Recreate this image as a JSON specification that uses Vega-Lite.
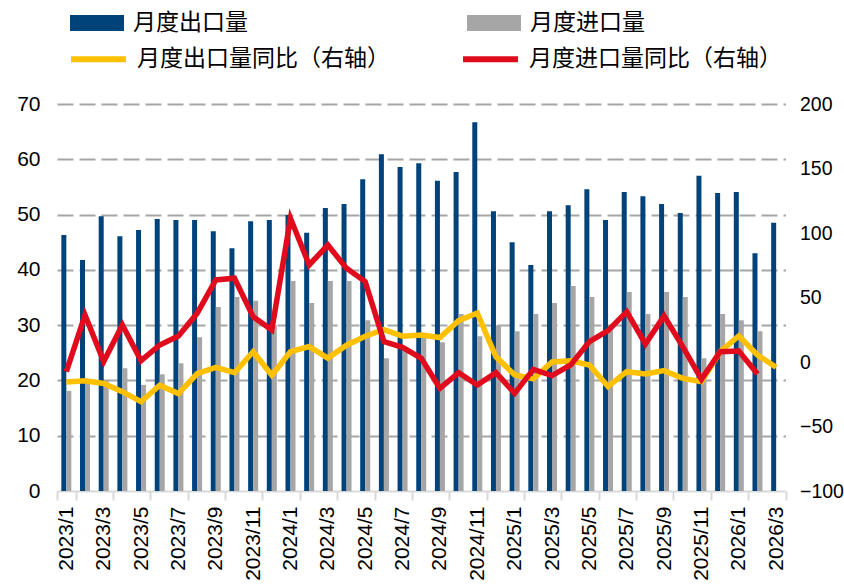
{
  "$schema": "https://vega.github.io/schema/vega-lite/v6.json",
  "width": 728.5,
  "height": 387,
  "autosize": {"type": "none"},
  "padding": {"left": 57, "top": 104, "right": 58.5, "bottom": 97},
  "background": "white",
  "config": {"view": {"stroke": null}, "font": "Liberation Sans"},
  "data": {
    "values": [
      {"month": "2023/1", "exp": 46.3, "imp": 18.1, "expYoY": -15.5, "impYoY": -7.5},
      {"month": "2023/2", "exp": 41.8, "imp": 20.0, "expYoY": -14.5, "impYoY": 36.4},
      {"month": "2023/3", "exp": 49.7, "imp": 20.0, "expYoY": -16.6, "impYoY": 0.3},
      {"month": "2023/4", "exp": 46.1, "imp": 22.2, "expYoY": -23.0, "impYoY": 28.7},
      {"month": "2023/5", "exp": 47.2, "imp": 19.2, "expYoY": -30.8, "impYoY": 1.0},
      {"month": "2023/6", "exp": 49.2, "imp": 21.1, "expYoY": -18.0, "impYoY": 13.2},
      {"month": "2023/7", "exp": 49.0, "imp": 23.1, "expYoY": -24.5, "impYoY": 20.2},
      {"month": "2023/8", "exp": 49.0, "imp": 27.8, "expYoY": -9.0, "impYoY": 37.7},
      {"month": "2023/9", "exp": 47.0, "imp": 33.3, "expYoY": -4.1, "impYoY": 63.6},
      {"month": "2023/10", "exp": 43.9, "imp": 35.1, "expYoY": -8.3, "impYoY": 64.9},
      {"month": "2023/11", "exp": 48.8, "imp": 34.4, "expYoY": 8.0, "impYoY": 35.1},
      {"month": "2023/12", "exp": 49.0, "imp": 30.0, "expYoY": -10.3, "impYoY": 24.8},
      {"month": "2024/1", "exp": 49.9, "imp": 38.0, "expYoY": 8.0, "impYoY": 111.4},
      {"month": "2024/2", "exp": 46.7, "imp": 34.0, "expYoY": 12.0, "impYoY": 75.2},
      {"month": "2024/3", "exp": 51.2, "imp": 38.0, "expYoY": 3.0, "impYoY": 90.7},
      {"month": "2024/4", "exp": 51.9, "imp": 38.0, "expYoY": 13.0, "impYoY": 72.6},
      {"month": "2024/5", "exp": 56.4, "imp": 30.9, "expYoY": 20.0, "impYoY": 62.3},
      {"month": "2024/6", "exp": 60.9, "imp": 24.0, "expYoY": 25.0, "impYoY": 15.8},
      {"month": "2024/7", "exp": 58.6, "imp": 26.0, "expYoY": 20.0, "impYoY": 11.4},
      {"month": "2024/8", "exp": 59.3, "imp": 27.8, "expYoY": 21.0, "impYoY": 2.8},
      {"month": "2024/9", "exp": 56.1, "imp": 26.9, "expYoY": 19.0, "impYoY": -20.4},
      {"month": "2024/10", "exp": 57.7, "imp": 32.0, "expYoY": 32.0, "impYoY": -8.3},
      {"month": "2024/11", "exp": 66.7, "imp": 28.0, "expYoY": 38.0, "impYoY": -17.8},
      {"month": "2024/12", "exp": 50.6, "imp": 30.0, "expYoY": 4.0, "impYoY": -8.3},
      {"month": "2025/1", "exp": 45.0, "imp": 28.9, "expYoY": -10.0, "impYoY": -24.3},
      {"month": "2025/2", "exp": 40.9, "imp": 32.0, "expYoY": -13.0, "impYoY": -5.7},
      {"month": "2025/3", "exp": 50.6, "imp": 34.0, "expYoY": 0.0, "impYoY": -10.5},
      {"month": "2025/4", "exp": 51.7, "imp": 37.1, "expYoY": 1.0, "impYoY": -2.3},
      {"month": "2025/5", "exp": 54.6, "imp": 35.1, "expYoY": -2.3, "impYoY": 15.8},
      {"month": "2025/6", "exp": 49.0, "imp": 30.0, "expYoY": -19.0, "impYoY": 24.3},
      {"month": "2025/7", "exp": 54.1, "imp": 36.0, "expYoY": -7.5, "impYoY": 39.0},
      {"month": "2025/8", "exp": 53.3, "imp": 32.0, "expYoY": -9.3, "impYoY": 14.0},
      {"month": "2025/9", "exp": 51.9, "imp": 36.0, "expYoY": -6.7, "impYoY": 35.7},
      {"month": "2025/10", "exp": 50.3, "imp": 35.1, "expYoY": -12.7, "impYoY": 11.9},
      {"month": "2025/11", "exp": 57.0, "imp": 24.0, "expYoY": -15.3, "impYoY": -13.4},
      {"month": "2025/12", "exp": 53.9, "imp": 32.0, "expYoY": 8.0, "impYoY": 8.0},
      {"month": "2026/1", "exp": 54.1, "imp": 30.9, "expYoY": 20.2, "impYoY": 8.5},
      {"month": "2026/2", "exp": 43.0, "imp": 28.9, "expYoY": 5.4, "impYoY": -9.3},
      {"month": "2026/3", "exp": 48.5, "imp": null, "expYoY": -4.1, "impYoY": null}
    ]
  },
  "layer": [
    {
      "transform": [{"fold": ["exp", "imp"], "as": ["series", "value"]}],
      "mark": {"type": "bar"},
      "encoding": {
        "x": {
          "field": "month",
          "type": "nominal",
          "sort": null,
          "scale": {"paddingInner": 0, "paddingOuter": 0},
          "axis": {
            "title": null,
            "values": ["2023/1", "2023/3", "2023/5", "2023/7", "2023/9", "2023/11", "2024/1", "2024/3", "2024/5", "2024/7", "2024/9", "2024/11", "2025/1", "2025/3", "2025/5", "2025/7", "2025/9", "2025/11", "2026/1", "2026/3"],
            "tickBand": "extent",
            "labelAngle": -90,
            "labelAlign": "right",
            "labelBaseline": "middle",
            "labelFont": "Liberation Sans",
            "labelFontSize": 21,
            "labelColor": "#000000",
            "labelPadding": 6,
            "domainColor": "#d9d9d9",
            "domainWidth": 2,
            "tickColor": "#d9d9d9",
            "tickWidth": 2,
            "tickSize": 9,
            "grid": false
          }
        },
        "xOffset": {
          "field": "series",
          "type": "nominal",
          "scale": {"domain": ["exp", "imp"], "paddingInner": 0, "paddingOuter": 0.868}
        },
        "y": {
          "field": "value",
          "type": "quantitative",
          "scale": {"domain": [0, 70], "nice": false},
          "axis": {
            "title": null,
            "values": [0, 10, 20, 30, 40, 50, 60, 70],
            "labelFont": "Liberation Sans",
            "labelFontSize": 21,
            "labelColor": "#000000",
            "labelPadding": 17,
            "ticks": false,
            "domain": false,
            "grid": true,
            "gridColor": {"condition": {"test": "datum.value === 0", "value": "transparent"}, "value": "#a6a6a6"},
            "gridDash": [16, 6],
            "gridWidth": 2
          }
        },
        "fill": {
          "field": "series",
          "type": "nominal",
          "scale": {"domain": ["exp", "imp"], "range": ["#00427a", "#a6a6a6"]},
          "legend": {
            "orient": "none",
            "legendX": 13,
            "legendY": -108,
            "direction": "horizontal",
            "columns": 2,
            "columnPadding": 219,
            "title": null,
            "padding": 0,
            "symbolType": "M-1,-0.3H1V0.3H-1Z",
            "symbolSize": 2916,
            "symbolStrokeWidth": 0,
            "symbolOpacity": 1,
            "labelFont": "Noto Sans CJK SC",
            "labelFontSize": 23,
            "labelColor": "#000000",
            "labelOffset": 9,
            "labelLimit": 400,
            "labelExpr": "datum.value == 'exp' ? '月度出口量' : '月度进口量'"
          }
        }
      }
    },
    {
      "transform": [{"fold": ["expYoY", "impYoY"], "as": ["series2", "yoy"]}],
      "mark": {"type": "line", "strokeWidth": 5.5, "strokeJoin": "miter", "strokeCap": "butt"},
      "encoding": {
        "x": {"field": "month", "type": "nominal", "sort": null},
        "y": {
          "field": "yoy",
          "type": "quantitative",
          "scale": {"domain": [-100, 200], "nice": false},
          "axis": {
            "orient": "right",
            "title": null,
            "values": [-100, -50, 0, 50, 100, 150, 200],
            "labelFont": "Liberation Sans",
            "labelFontSize": 19.5,
            "labelColor": "#000000",
            "labelPadding": 14,
            "ticks": false,
            "domain": false,
            "grid": false
          }
        },
        "stroke": {
          "field": "series2",
          "type": "nominal",
          "scale": {"domain": ["expYoY", "impYoY"], "range": ["#ffc000", "#e00b1c"]},
          "legend": {
            "orient": "none",
            "legendX": 11,
            "legendY": -75.5,
            "direction": "horizontal",
            "columns": 2,
            "columnPadding": 61,
            "title": null,
            "padding": 0,
            "symbolType": "stroke",
            "symbolSize": 3025,
            "symbolStrokeWidth": 6,
            "labelFont": "Noto Sans CJK SC",
            "labelFontSize": 23,
            "labelColor": "#000000",
            "labelOffset": 8,
            "labelLimit": 400,
            "labelExpr": "datum.value == 'expYoY' ? '月度出口量同比（右轴）' : '月度进口量同比（右轴）'"
          }
        }
      }
    }
  ],
  "resolve": {"scale": {"y": "independent"}}
}
